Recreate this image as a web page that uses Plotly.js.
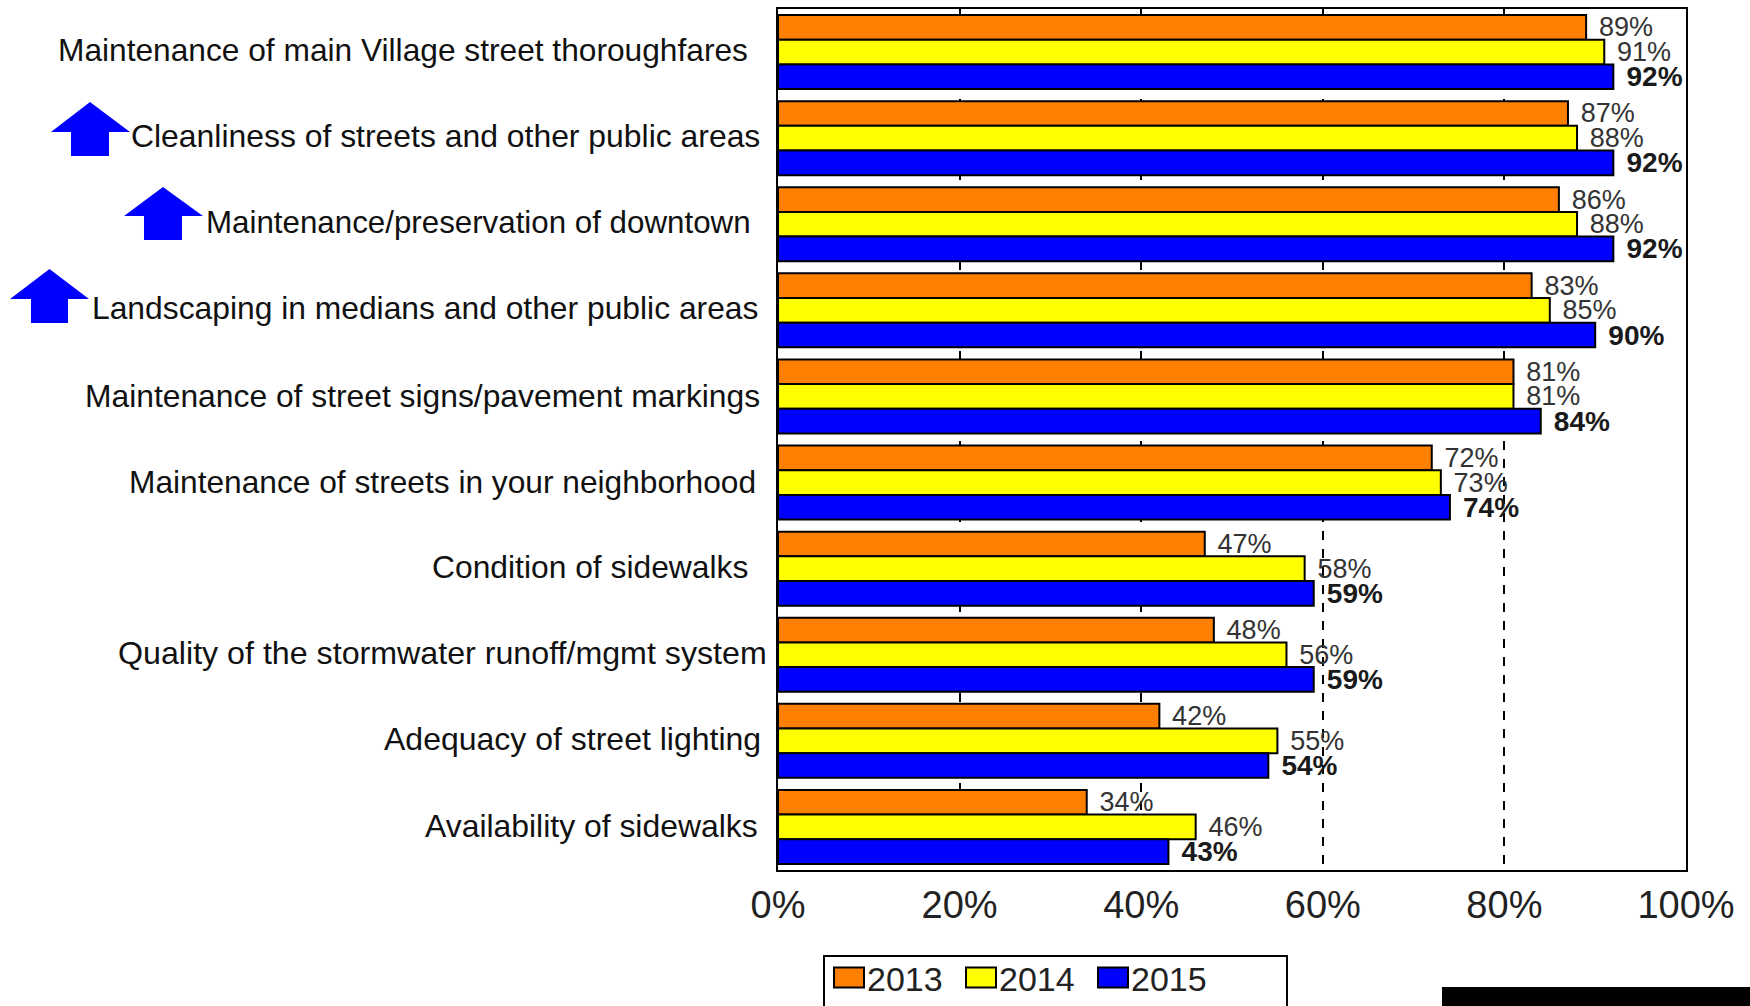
<!DOCTYPE html>
<html><head><meta charset="utf-8">
<script src="https://cdn.plot.ly/plotly-3.0.1.min.js"></script>
<style>html,body{margin:0;padding:0;background:#fff}</style>
</head><body><div id="chart" style="width:1750px;height:1006px"></div>
<script>
const categories = [
  "Maintenance of main Village street thoroughfares",
  "Cleanliness of streets and other public areas",
  "Maintenance/preservation of downtown",
  "Landscaping in medians and other public areas",
  "Maintenance of street signs/pavement markings",
  "Maintenance of streets in your neighborhood",
  "Condition of sidewalks",
  "Quality of the stormwater runoff/mgmt system",
  "Adequacy of street lighting",
  "Availability of sidewalks"
];
const values2013 = [89,87,86,83,81,72,47,48,42,34];
const values2014 = [91,88,88,85,81,73,58,56,55,46];
const values2015 = [92,92,92,90,84,74,59,59,54,43];
const tickVals = [0,20,40,60,80,100];
const tickLabels = ["0%","20%","40%","60%","80%","100%"];

const W = 1750, H = 1006;
const M = {l:778, r:64, t:9, b:136};
const px = x => (x - M.l) / (W - M.l - M.r);
const py = y => 1 - (y - M.t) / (H - M.t - M.b);

// right edge (page px), font size and vertical nudge of each hand-placed category label
const labelRight = [750,762,753,760,762,758,750,769,763,760];
const labelSize = [31.7,31.9,31.3,31.8,31.8,31.7,31.8,32.2,32,31.9];
const labelLift = [2,2,2,2,0,1,2,2,2,1];
// left edge, right edge, tip, shaft left, shaft right, top, shoulder, bottom
const arrows = [
  [51,130,90,71,109,102,132,156],
  [124,203,163,144,182,187,216,240],
  [10,89,49.5,31,68,269,299,323]
];
function arrowPath(a){
  const [l,r,t,sl,sr,top,sh,bot] = a;
  const p = [[t,top],[r,sh],[sr,sh],[sr,bot],[sl,bot],[sl,sh],[l,sh]];
  return 'M' + p.map(q => px(q[0]).toFixed(5)+','+py(q[1]).toFixed(5)).join('L') + 'Z';
}

function barTrace(name, vals, color, font){
  return {
    type:'bar', orientation:'h', name, x:vals, y:categories,
    marker:{color, line:{color:'#000', width:2}},
    text: vals.map(v => '\u00a0\u200a'+v+'%'),
    textposition:'outside', cliponaxis:false, constraintext:'none',
    textfont:font, hoverinfo:'x+name'
  };
}
const FF = 'Liberation Sans, Arial, sans-serif';
const plain = {family:FF, size:27, color:'#333333'};
const bold = {family:FF, size:28, color:'#1a1a1a', weight:700};
const data = [
  barTrace('2013', values2013, '#FF8000', plain),
  barTrace('2014', values2014, '#FFFF00', plain),
  barTrace('2015', values2015, '#0000FF', bold)
];

const annotations = categories.map((c,i) => ({
  text:c, xref:'paper', yref:'y', x:px(labelRight[i]), y:c, yshift:labelLift[i],
  xanchor:'right', yanchor:'middle', showarrow:false,
  font:{family:FF, size:labelSize[i], color:'#111'}
}));

const shapes = arrows.map(a => ({type:'path', xref:'paper', yref:'paper', path:arrowPath(a),
    fillcolor:'#0000FF', line:{width:0}}));
shapes.push({type:'rect', xref:'paper', yref:'paper', x0:px(824), x1:px(1287), y0:py(1012), y1:py(956),
    fillcolor:'rgba(0,0,0,0)', line:{color:'#000', width:2}});
shapes.push({type:'rect', xref:'paper', yref:'paper', x0:px(1442), x1:px(1750), y0:py(1006), y1:py(987),
    fillcolor:'#000', line:{width:0}});

const layout = {
  width:W, height:H, margin:M, paper_bgcolor:'#fff', plot_bgcolor:'#fff',
  barmode:'group', bargap:0.14, bargroupgap:0,
  xaxis:{range:[0,100], tickmode:'array', tickvals:tickVals, ticktext:tickLabels, showline:true, mirror:true,
    linecolor:'#000', linewidth:2, showgrid:true, gridcolor:'#000', gridwidth:1.5, griddash:'dash',
    zeroline:false, ticks:'', ticklen:0,
    tickfont:{family:FF, size:38, color:'#222'}},
  yaxis:{type:'category', autorange:'reversed', categoryorder:'array', categoryarray:categories,
    showticklabels:false, showline:true, mirror:true, linecolor:'#000', linewidth:2,
    showgrid:false, zeroline:false, ticks:''},
  showlegend:true,
  legend:{orientation:'h', xref:'container', yref:'container', x:827/W, xanchor:'left', y:1-949/H, yanchor:'top',
    entrywidth:87, entrywidthmode:'pixels', itemclick:false, itemdoubleclick:false,
    bgcolor:'rgba(0,0,0,0)', font:{family:FF, size:34, color:'#222'}, traceorder:'normal'},
  annotations, shapes
};
Plotly.newPlot('chart', data, layout, {displayModeBar:false}).then(() => {
  document.querySelectorAll('.legend .legendpoints path').forEach(p => {
    p.setAttribute('d','M17,10H-13V-10H17Z');
  });
});
</script></body></html>
